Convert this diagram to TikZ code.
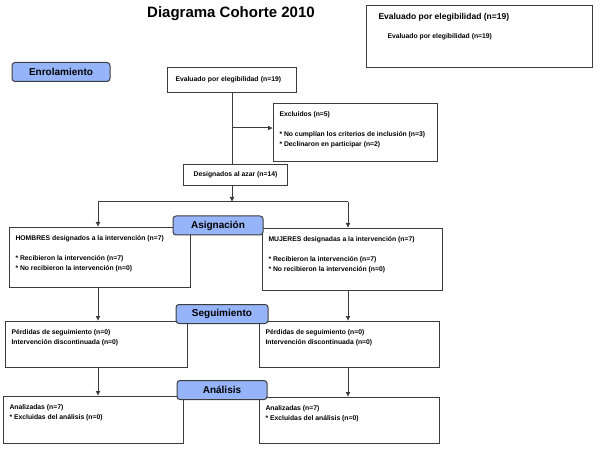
\documentclass[tikz,border=0pt]{standalone}
\usepackage{fontspec}
\setmainfont{Liberation Sans}
\usetikzlibrary{arrows.meta}
\usetikzlibrary{calc}
\definecolor{headblue}{RGB}{150,180,250}
\definecolor{linegray}{RGB}{60,60,60}
% box content: width, height, lines (top left aligned)
\newcommand{\boxtext}[3]{\parbox[c][#2][t]{#1}{\leftskip=6pt\vspace*{8pt}#3}}
\tikzset{
    x=1pt, y=-1pt,
    >={Latex[length=5pt,width=5pt]},
    textbox/.style={
        draw=linegray,
        line width=1pt,
        fill=white,
        anchor=north west,
        inner sep=0pt,
        font=\fontsize{6.8}{10}\selectfont\bfseries
    },
    head/.style={
        draw=linegray,
        line width=1pt,
        fill=headblue,
        rounded corners=3pt,
        minimum width=90pt,
        minimum height=19pt,
        inner sep=0pt,
        font=\fontsize{10}{12}\selectfont\bfseries
    },
    link/.style={
        draw=linegray,
        line width=1pt
    },
    arr/.style={
        link,
        ->
    }
}
\begin{document}
\begin{tikzpicture}
    \useasboundingbox (0,0) rectangle (600,449);
    \node (title) at (231,14) {\fontsize{15}{18}\selectfont\bfseries Diagrama Cohorte 2010};
    \node[textbox] (legend) at (366,5) {\parbox[c][62pt][t]{226pt}{\leftskip=12pt\vspace*{8pt}%
        {\fontsize{8.5}{10}\selectfont Evaluado por elegibilidad (n=19)}\\[9pt]
        \hspace*{9pt}Evaluado por elegibilidad (n=19)}};
    % enrolamiento
    \node[textbox, anchor=north west, text width=113pt, inner xsep=8pt, minimum height=25pt, align=left] (eval) at (167,67) {Evaluado por elegibilidad (n=19)};
    \node[textbox] (excl) at (273,103) {\boxtext{164pt}{58pt}{%
        Excluídos (n=5)\\[10pt]
        {}* No cumplían los criterios de inclusión (n=3)\\
        {}* Declinaron en participar (n=2)}};
    \node[textbox, minimum width=104pt, minimum height=21pt] (desig) at (183,164) {Designados al azar (n=14)};
    % asignacion
    \node[textbox] (hombres) at (9,227) {\boxtext{181pt}{60pt}{%
        HOMBRES designados a la intervención (n=7)\\[10pt]
        {}* Recibieron la intervención (n=7)\\
        {}* No recibieron la intervención (n=0)}};
    \node[textbox] (mujeres) at (262,228) {\boxtext{180pt}{62pt}{%
        MUJERES designadas a la intervención (n=7)\\[10pt]
        {}* Recibieron la intervención (n=7)\\
        {}* No recibieron la intervención (n=0)}};
    % seguimiento
    \node[textbox] (perdL) at (5,321) {\boxtext{182pt}{46pt}{%
        Pérdidas de seguimiento (n=0)\\
        Intervención discontinuada (n=0)}};
    \node[textbox] (perdR) at (259,321) {\boxtext{180pt}{46pt}{%
        Pérdidas de seguimiento (n=0)\\
        Intervención discontinuada (n=0)}};
    % analisis
    \node[textbox] (analL) at (3,396) {\boxtext{180pt}{47pt}{%
        Analizadas (n=7)\\
        {}* Excluidas del análisis (n=0)}};
    \node[textbox] (analR) at (259,397) {\boxtext{180pt}{46pt}{%
        Analizadas (n=7)\\
        {}* Excluidas del análisis (n=0)}};
    % stage labels
    \node[head, minimum width=98pt] (enrol) at (61,72) {Enrolamiento};
    \node[head] (asig) at (218,225.5) {Asignación};
    \node[head, minimum width=92pt] (segui) at (222,314) {Seguimiento};
    \node[head] (anali) at (222,390) {Análisis};
    % connectors
    \coordinate (split) at (232,128);
    \coordinate (fork) at (232,202);
    \coordinate (lcol) at (98,202);
    \coordinate (rcol) at (348,202);
    \draw[link] (eval.south -| split) -- (desig.north -| split);
    \draw[arr] (split) -- (split -| excl.west);
    \draw[arr] (desig.south -| fork) -- (fork);
    \draw[link] (lcol) -- (rcol);
    \draw[arr] (lcol) -- (lcol |- hombres.north);
    \draw[arr] (rcol) -- (rcol |- mujeres.north);
    \draw[arr] (lcol |- hombres.south) -- (lcol |- perdL.north);
    \draw[arr] (rcol |- mujeres.south) -- (rcol |- perdR.north);
    \draw[arr] (lcol |- perdL.south) -- (lcol |- analL.north);
    \draw[arr] (rcol |- perdR.south) -- (rcol |- analR.north);
\end{tikzpicture}
\end{document}
